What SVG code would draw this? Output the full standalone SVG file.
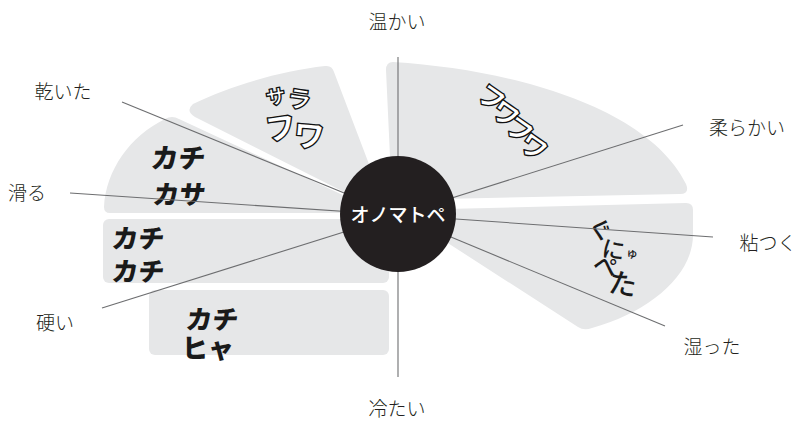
<svg xmlns="http://www.w3.org/2000/svg" width="797" height="423" viewBox="0 0 797 423">
<style>
.sector{fill:#e6e7e8}
.axis{stroke:#6d6e70;stroke-width:1.1;fill:none}
.lbl{font-family:"Noto Sans CJK JP","Noto Sans",sans-serif;font-weight:300;font-size:19px;fill:#231f20;text-anchor:middle}
.hub{font-family:"Noto Sans CJK JP","Noto Sans",sans-serif;font-weight:500;font-size:19px;fill:#fff;text-anchor:middle}
.outl{font-family:"Noto Sans CJK JP",sans-serif;font-weight:900;fill:#fff;stroke:#111;stroke-width:1.3;stroke-linejoin:round;text-anchor:middle}
.brush{font-family:"Noto Sans CJK JP",sans-serif;font-weight:900;fill:#1a1a1a;text-anchor:middle}
.soft{font-family:"Noto Sans CJK JP",sans-serif;font-weight:500;fill:#1a1a1a;text-anchor:middle}
</style>
<rect width="797" height="423" fill="#fff"/>
<g id="sectors">
<g id="sector-fuwafuwa"><path class="sector" d="M392,200 L386,70 Q386,62 393,62 C520,70 650,110 686,184 Q690,194 680,194 L440,199 Z"/>
<text class="outl" font-size="27" transform="translate(486,106) rotate(35)">フ</text>
<text class="outl" font-size="27" transform="translate(500,122) rotate(35)">ワ</text>
<text class="outl" font-size="27" transform="translate(514,138) rotate(35)">フ</text>
<text class="outl" font-size="27" transform="translate(528,155) rotate(35)">ワ</text>
</g>
<g id="sector-guniyupeta"><path class="sector" d="M445,209 L686,203 Q693,203 693,210 L693,235 C693,275 650,312 592,328 Q584,331 578,327 L440,238 Z"/>
<text class="soft" font-size="24" transform="translate(598,238) rotate(15)">ぐ</text>
<text class="soft" font-size="23" transform="translate(612,258) rotate(10)">に</text>
<text class="soft" font-size="12" transform="translate(632,258)">ゅ</text>
<text class="soft" font-size="24" transform="translate(603,274) rotate(15)">ぺ</text>
<text class="soft" font-size="28" transform="translate(621,294) rotate(10)">た</text>
</g>
<g id="sector-sarafuwa"><path class="sector" d="M350,195 L195,117 Q185,111 193,104 C230,86 280,71 325,66 Q332,65 334,72 L372,172 Z"/>
<text class="outl" font-size="20" transform="translate(277,104) rotate(-10)">サ</text>
<text class="outl" font-size="24" transform="translate(298,108) rotate(8)">ラ</text>
<text class="outl" font-size="31" transform="translate(282,139) rotate(-8)">フ</text>
<text class="outl" font-size="31" transform="translate(308,147) rotate(5)">ワ</text>
</g>
<g id="sector-kachikasa"><path class="sector" d="M345,213 L110,213 Q104,213 104,207 C106,170 130,136 165,119 Q172,115 179,119 L345,196 Z"/>
<text class="brush" font-size="27" transform="translate(177,168) skewX(-8)">カチ</text>
<text class="brush" font-size="26" transform="translate(178,204) skewX(-8)">カサ</text>
</g>
<g id="rect-kachikachi"><rect class="sector" x="103" y="219" width="286" height="64" rx="6"/>
<text class="brush" font-size="26" transform="translate(137,248) skewX(-8)">カチ</text>
<text class="brush" font-size="26" transform="translate(137,281) skewX(-8)">カチ</text>
</g>
<g id="rect-kachihiya"><rect class="sector" x="149" y="290" width="240" height="65" rx="6"/>
<text class="brush" font-size="26" transform="translate(211,329) skewX(-8)">カチ</text>
<text class="brush" font-size="26" transform="translate(208,358)">ヒャ</text>
</g>
</g>
<g id="connectors">
<line class="axis" x1="398" y1="57" x2="398" y2="215"/>
<line class="axis" x1="398" y1="215" x2="398" y2="377"/>
<line class="axis" x1="122" y1="102" x2="398" y2="215"/>
<line class="axis" x1="70" y1="193" x2="398" y2="215"/>
<line class="axis" x1="102" y1="308" x2="398" y2="215"/>
<line class="axis" x1="683" y1="125" x2="398" y2="215"/>
<line class="axis" x1="713" y1="237" x2="398" y2="215"/>
<line class="axis" x1="665" y1="326" x2="398" y2="215"/>
</g>
<g id="hub">
<circle cx="398" cy="214" r="58" fill="#231f20"/>
<text class="hub" x="398" y="222">オノマトペ</text>
</g>
<g id="labels">
<text id="lbl-warm" class="lbl" x="397" y="29">温かい</text>
<text id="lbl-cold" class="lbl" x="397" y="416">冷たい</text>
<text id="lbl-dry" class="lbl" x="63" y="99">乾いた</text>
<text id="lbl-slip" class="lbl" x="27" y="200">滑る</text>
<text id="lbl-hard" class="lbl" x="55" y="330">硬い</text>
<text id="lbl-soft" class="lbl" x="747" y="135">柔らかい</text>
<text id="lbl-sticky" class="lbl" x="768" y="250">粘つく</text>
<text id="lbl-wet" class="lbl" x="712" y="354">湿った</text>
</g>
</svg>
